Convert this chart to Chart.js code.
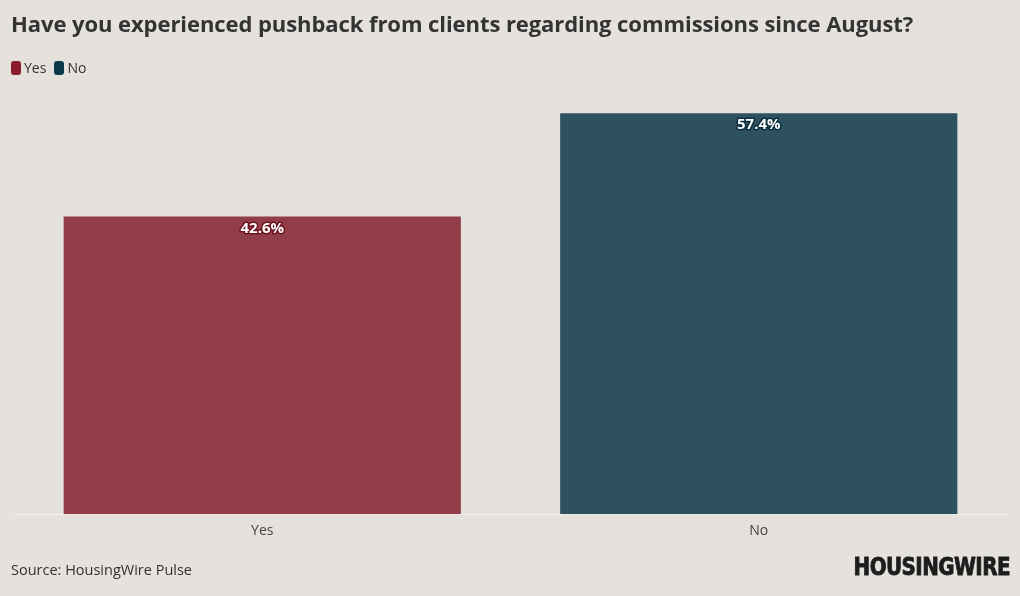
<!DOCTYPE html>
<html>
<head>
<meta charset="utf-8">
<script src="https://cdn.jsdelivr.net/npm/chart.js@4.4.1/dist/chart.umd.min.js"></script>
<style>
  html, body { margin: 0; padding: 0; background: #e5e1dc; }
  body { width: 1020px; height: 596px; position: relative; overflow: hidden; font-family: "Open Sans", sans-serif; }
  #title { position: absolute; left: 11px; top: 8px; font-size: 22px; font-weight: 700; color: #333; letter-spacing: -0.07px; }
  #legend { position: absolute; left: 11px; top: 58px; font-size: 14px; color: #333; display: flex; gap: 8px; }
  #legend span.sw { display: inline-block; width: 10px; height: 14px; border-radius: 3px; vertical-align: -2px; margin-right: 3px; }
  #source { position: absolute; left: 11px; top: 560px; font-size: 14.5px; color: #333; }
  #logo { position: absolute; right: 10px; top: 553px; font-family: "DejaVu Sans Condensed", "Liberation Sans Narrow", sans-serif; font-weight: 700; font-size: 24px; color: #1d1d1d; letter-spacing: -0.6px; -webkit-text-stroke: 0.8px #1d1d1d; transform: scaleX(0.92); transform-origin: right center; }
  #wrap { position: absolute; left: 0; top: 0; width: 1020px; height: 596px; }
</style>
</head>
<body>
<div id="wrap"><canvas id="c"></canvas></div>
<div id="title">Have you experienced pushback from clients regarding commissions since August?</div>
<div id="legend">
  <div><span class="sw" style="background:#8a1c2c"></span>Yes</div>
  <div><span class="sw" style="background:#0d3a4b"></span>No</div>
</div>
<div id="source">Source: HousingWire Pulse</div>
<div id="logo">HOUSINGWIRE</div>
<script>
// data
const categories = ['Yes', 'No'];
const values = [42.6, 57.4];
const barColors = ['#913e48', '#2e5160'];
const labelOutline = ['#6e1220', '#082e3d'];

// draw the value at the top of each bar, white with a dark outline
const valueLabels = {
  id: 'valueLabels',
  afterDatasetsDraw(chart) {
    const ctx = chart.ctx;
    const meta = chart.getDatasetMeta(0);
    ctx.save();
    ctx.font = 'bold 15px "Open Sans", sans-serif';
    ctx.textAlign = 'center';
    ctx.textBaseline = 'middle';
    ctx.lineJoin = 'round';
    meta.data.forEach((bar, i) => {
      const txt = values[i].toFixed(1) + '%';
      const y = bar.y + 12;
      ctx.lineWidth = 3;
      ctx.strokeStyle = labelOutline[i];
      ctx.strokeText(txt, bar.x, y);
      ctx.fillStyle = '#fff';
      ctx.fillText(txt, bar.x, y);
    });
    ctx.restore();
  }
};

new Chart(document.getElementById('c'), {
  type: 'bar',
  data: {
    labels: categories,
    datasets: [{
      data: values,
      backgroundColor: barColors,
      borderWidth: 0,
      categoryPercentage: 0.8,
      barPercentage: 1.0
    }]
  },
  options: {
    responsive: true,
    maintainAspectRatio: false,
    animation: false,
    layout: { padding: { left: 14, right: 13, top: 95, bottom: 49 } },
    plugins: {
      legend: { display: false },
      tooltip: { enabled: false }
    },
    scales: {
      x: {
        grid: { display: false, drawTicks: false },
        border: { display: true, color: '#f6f4f1', width: 1 },
        ticks: { color: '#444', font: { size: 14, family: '"Open Sans", sans-serif' }, padding: 8 }
      },
      y: {
        display: false,
        min: 0,
        max: 60
      }
    }
  },
  plugins: [valueLabels]
});
</script>
</body>
</html>
